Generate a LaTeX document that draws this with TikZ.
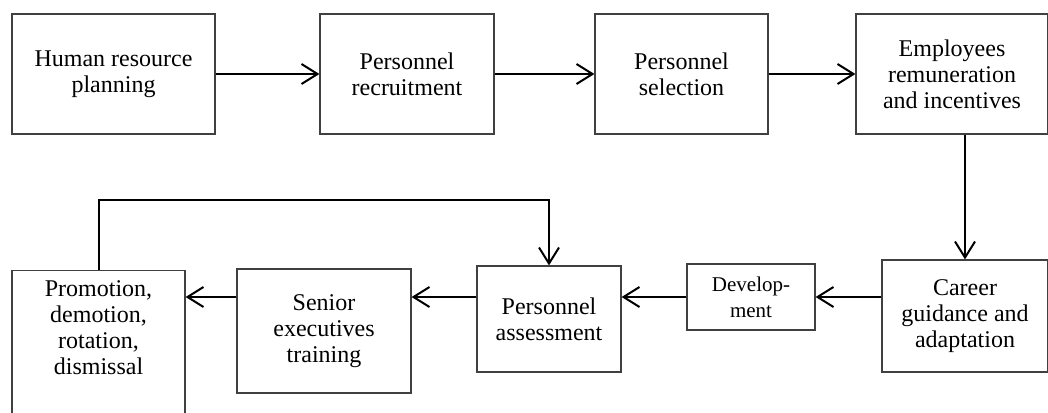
\documentclass[tikz,border=0pt]{standalone}
\usepackage{fontspec}
\setmainfont{Liberation Serif}
\usetikzlibrary{arrows.meta,positioning}

\begin{document}
\begin{tikzpicture}[x=0.5pt,y=-0.5pt,every node/.style={font=\fontsize{12}{13}\selectfont},
  blk/.style={draw=black!75,line width=.6pt,align=center,inner sep=2pt},
  flow/.style={-{Straight Barb[length=8pt,width=10pt]},line width=1pt}]
\useasboundingbox (0,0) rectangle (1048,412);
\node[blk,minimum width=101.5pt,minimum height=60pt] (hrp) at (113.5,74) {Human resource\\planning};
\node[blk,minimum width=87pt,minimum height=60pt] (recruit) at (407,74) {Personnel\\recruitment};
\node[blk,minimum width=86.5pt,minimum height=60pt] (select) at (681.5,74) {Personnel\\selection};
\node[blk,minimum width=96pt,minimum height=60pt] (remun) at (952,74) {Employees\\remuneration\\and incentives};
\node[blk,minimum width=83pt,minimum height=56pt] (career) at (965,316) {Career\\guidance and\\adaptation};
\node[blk,minimum width=64pt,minimum height=33pt,font=\fontsize{10.5}{13}\selectfont] (devel) at (751,297) {Develop-\\ment};
\node[blk,minimum width=72pt,minimum height=53pt] (assess) at (549,319) {Personnel\\assessment};
\node[blk,minimum width=87pt,minimum height=62pt] (senior) at (324,331) {Senior\\executives\\training};
\node[blk,minimum width=86.5pt,anchor=north,inner ysep=5pt,text depth=45pt] (promo) at (98.5,270) {Promotion,\\demotion,\\rotation,\\dismissal};
\coordinate (loop) at (549,200);
\draw[flow] (hrp) -- (recruit);
\draw[flow] (recruit) -- (select);
\draw[flow] (select) -- (remun);
\draw[flow] (remun.south -| career.north) -- (career.north);
\draw[flow] (career.west |- devel.east) -- (devel.east);
\draw[flow] (devel.west) -- (devel.west -| assess.east);
\draw[flow] (assess.west |- devel.west) -- (senior.east |- devel.west);
\draw[flow] (senior.west |- devel.west) -- (promo.east |- devel.west);
\draw[flow] (promo.north) |- (loop) -- (assess.north);
\end{tikzpicture}
\end{document}
